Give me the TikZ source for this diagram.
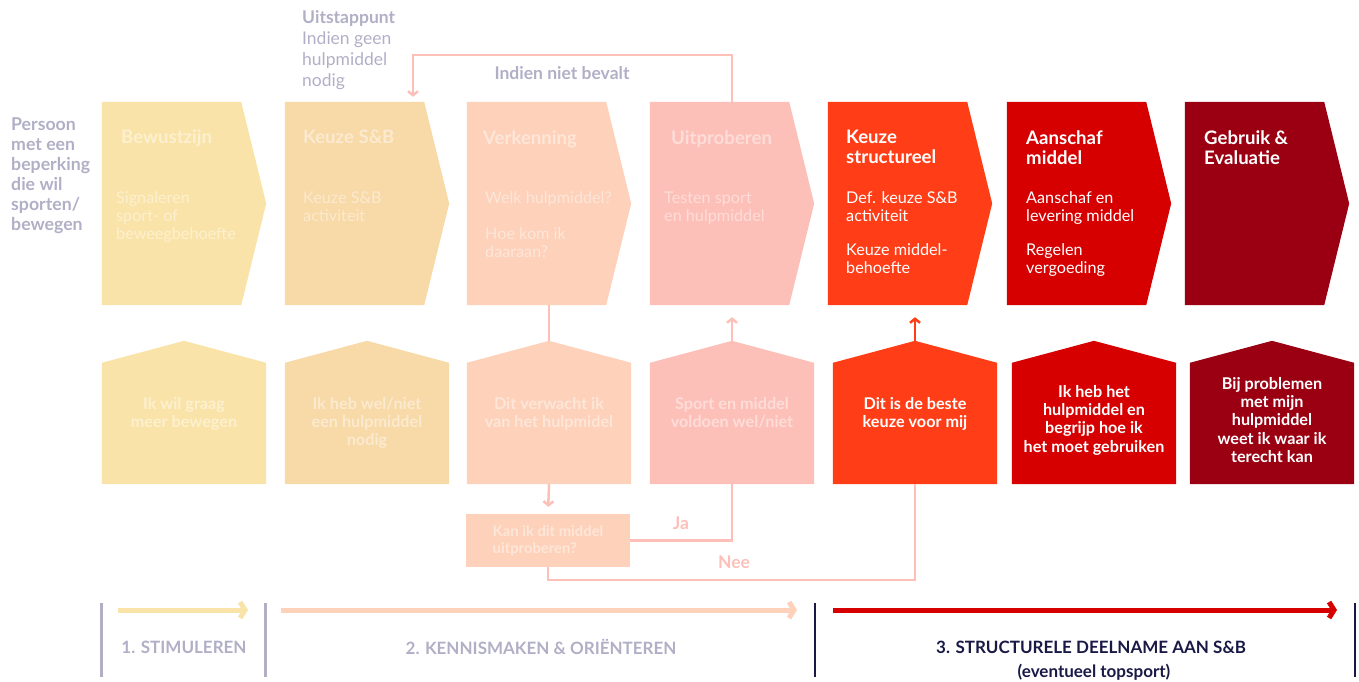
\documentclass[tikz,border=0pt]{standalone}
\usepackage{fontspec}
\setmainfont{Lato}
\usetikzlibrary{arrows.meta}
\definecolor{cone}{RGB}{250,227,168}
\definecolor{ctwo}{RGB}{248,217,168}
\definecolor{cthree}{RGB}{253,209,186}
\definecolor{cfour}{RGB}{253,192,185}
\definecolor{cfive}{RGB}{255,61,23}
\definecolor{csix}{RGB}{214,0,0}
\definecolor{cseven}{RGB}{155,0,18}
\definecolor{greytxt}{RGB}{177,175,198}
\definecolor{navy}{RGB}{25,25,70}
\begin{document}
\begin{tikzpicture}[x=1pt,y=-1pt,
    stepbox/.style={minimum width=164pt,minimum height=203pt,inner sep=0pt},
    housebox/.style={minimum width=164pt,minimum height=143pt,inner sep=0pt},
    ttl/.style={anchor=north west,align=left,inner sep=0pt,font=\bfseries\fontsize{18.6}{20}\selectfont},
    bdy/.style={anchor=north west,align=left,inner sep=0pt,font=\fontsize{16.2}{18}\selectfont},
    htxt/.style={anchor=north,align=center,inner sep=0pt,font=\bfseries\fontsize{16.2}{18.3}\selectfont},
    conn/.style={line width=2.5pt,cfour},
    tip/.style={-{Straight Barb[length=4pt,width=10pt]}},
    lbl/.style={inner sep=0pt,font=\bfseries\fontsize{17.5}{19}\selectfont,text=greytxt},
    phase/.style={inner sep=0pt,font=\bfseries\fontsize{17}{19}\selectfont,text=greytxt},
  ]
  \useasboundingbox (0,0) rectangle (1359,681);

  % top row
  \foreach \n/\x/\ti/\bi/\col/\tc/\ttl/\bdy in {
      bew/102/19/14/cone/white!45!cone/{Bewustzijn}/{Signaleren\\sport- of\\beweegbehoefte},
      kzs/285/18/18/ctwo/white!45!ctwo/{Keuze S\&B}/{Keuze S\&B\\activiteit},
      ver/467/16/18/cthree/white!45!cthree/{Verkenning}/{Welk hulpmiddel?\\[18pt]Hoe kom ik\\daaraan?},
      uit/650/21/14/cfour/white!45!cfour/{Uitproberen}/{Testen sport\\en hulpmiddel},
      str/828/18/18/cfive/white/{Keuze\\structureel}/{Def. keuze S\&B\\activiteit\\[16pt]Keuze middel-\\behoefte},
      aan/1007/19/19/csix/white/{Aanschaf\\middel}/{Aanschaf en\\levering middel\\[16pt]Regelen\\vergoeding},
      geb/1185/19/19/cseven/white/{Gebruik \&\\Evaluatie}/{}} {
    \node[stepbox] (\n) at (\x+82,203.5) {};
    \fill[\col] (\n.north west) -- ([xshift=-25]\n.north east) -- (\n.east)
      -- ([xshift=-25]\n.south east) -- (\n.south west) -- cycle;
    \node[ttl,text=\tc] (\n-t) at (\x+\ti,130) {\ttl};
    \node[bdy,text=\tc] (\n-b) at (\x+\bi,191.5) {\bdy};
  }

  % bottom row
  \foreach \n/\x/\col/\tc/\y/\txt in {
      hsa/102/cone/white!45!cone/397/{Ik wil graag\\meer bewegen},
      hsb/285/ctwo/white!45!ctwo/397/{Ik heb wel/niet\\een hulpmiddel\\nodig},
      hsc/467/cthree/white!45!cthree/397/{Dit verwacht ik\\van het hulpmidel},
      hsd/650/cfour/white!45!cfour/397/{Sport en middel\\voldoen wel/niet},
      hse/833/cfive/white/397/{Dit is de beste\\keuze voor mij},
      hsf/1012/csix/white/385/{Ik heb het\\hulpmiddel en\\begrijp hoe ik\\het moet gebruiken},
      hsg/1190/cseven/white/377/{Bij problemen\\met mijn\\hulpmiddel\\weet ik waar ik\\terecht kan}} {
    \node[housebox] (\n) at (\x+82,412.5) {};
    \fill[\col] (\n.south west) -- ([yshift=-22]\n.north west) -- (\n.north)
      -- ([yshift=-22]\n.north east) -- (\n.south east) -- cycle;
    \node[htxt,text=\tc] (\n-t) at (\x+82,\y) {\txt};
  }

  \node[fill=cthree,minimum width=164pt,minimum height=53pt,inner sep=0pt,align=left,
    text=white!45!cthree,font=\bfseries\fontsize{14.8}{17}\selectfont] (try) at (548,540.5)
    {Kan ik dit middel\\uitproberen?};

  % connectors
  \draw[conn,tip,shorten >=5pt] (uit.north) -- ++(0,-47) -| ([xshift=46]kzs.north);
  \node[lbl] (bevalt) at (562,73) {Indien niet bevalt};
  \draw[conn] (ver.south) -- (hsc.north);
  \draw[conn,tip,shorten >=7pt] (hsc.south) -- (try.north);
  \draw[conn,tip] (hsd.north) -- ([yshift=-12]hsd.north |- uit.south);
  \draw[conn,cfive,tip] (hse.north) -- ([yshift=-12]hse.north |- str.south);
  \draw[conn] (hsd.south) |- (try.east);
  \draw[conn] (hse.south) -- ++(0,96) -| (try.south);
  \node[lbl,text=cfour] (ja) at (681,523) {Ja};
  \node[lbl,text=cfour] (nee) at (734,562) {Nee};

  % side texts
  \node[anchor=north west,align=left,inner sep=0pt,text=greytxt,
    font=\bfseries\fontsize{17.7}{20}\selectfont] (persoon) at (11,117.5)
    {Persoon\\met een\\beperking\\die wil\\sporten/\\bewegen};
  \node[anchor=north west,align=left,inner sep=0pt,text=greytxt,
    font=\fontsize{17.5}{21}\selectfont] (exit) at (302,10)
    {\textbf{Uitstappunt}\\Indien geen\\hulpmiddel\\nodig};

  % phases
  \coordinate (ba) at (101,603);
  \coordinate (bb) at (265,603);
  \coordinate (bc) at (815,603);
  \coordinate (bd) at (1355,603);
  \draw[line width=3pt,greytxt] (ba) -- ++(0,74);
  \draw[line width=3pt,greytxt] (bb) -- ++(0,74);
  \draw[line width=2.5pt,navy] (bc) -- ++(0,74);
  \draw[line width=2.5pt,navy] (bd) -- ++(0,74);
  \draw[line width=5pt,cone,-{Straight Barb[length=5pt,width=16pt]}] (118,610) -- (248,610);
  \draw[line width=5pt,cthree,-{Straight Barb[length=5pt,width=16pt]}] (281,610) -- (797,610);
  \draw[line width=5pt,csix,-{Straight Barb[length=5pt,width=16pt]}] (833,610) -- (1337,610);
  \node[phase] (pha) at (184,647) {1. STIMULEREN};
  \node[phase] (phb) at (541,647) {2. KENNISMAKEN \& ORIËNTEREN};
  \node[phase,text=navy] (phc) at (1091,647) {3. STRUCTURELE DEELNAME AAN S\&B};
  \node[phase,text=navy] (phd) at (1094,672) {(eventueel topsport)};
\end{tikzpicture}
\end{document}
